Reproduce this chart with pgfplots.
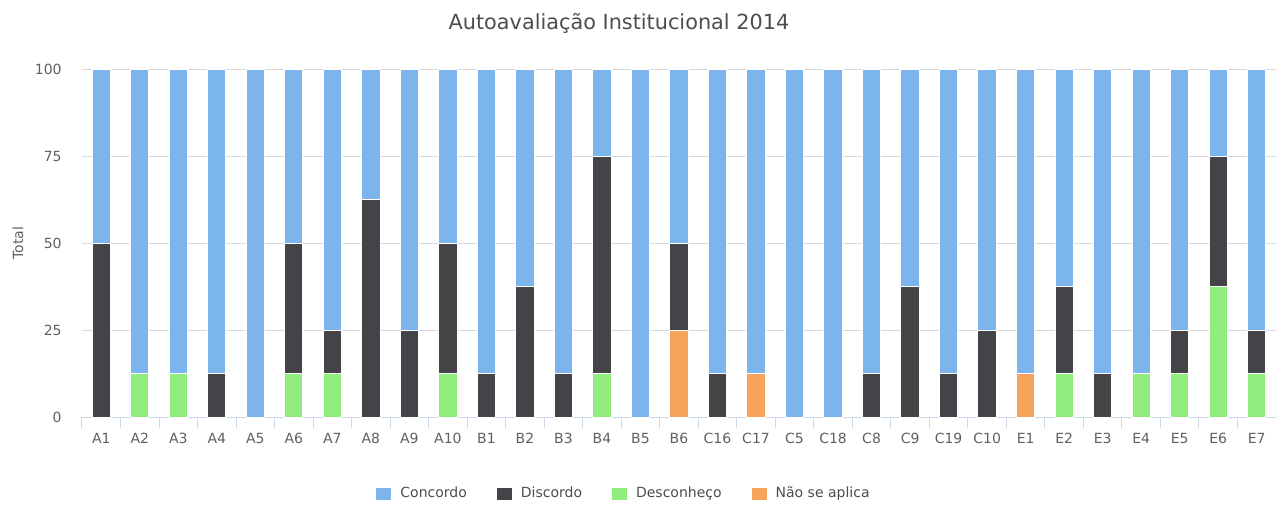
\documentclass[border=0pt]{standalone}
\usepackage{fontspec}
\setmainfont{DejaVu Sans}
\usepackage{pgfplots}
\usepackage{pgfplotstable}
\pgfplotsset{compat=1.18}

\definecolor{concordo}{HTML}{7CB5EC}
\definecolor{discordo}{HTML}{434348}
\definecolor{desconheco}{HTML}{90ED7D}
\definecolor{naoaplica}{HTML}{F7A35C}
\definecolor{gridgray}{HTML}{D8D8D8}
\definecolor{axisblue}{HTML}{CCD6EB}
\definecolor{titlegray}{HTML}{4D4D4D}
\definecolor{tickgray}{HTML}{606060}

% x = category index, values in % of respondents
\pgfplotstableread{
x  nao   desc  disc  conc
0  0     0     50    50
1  0     12.5  0     87.5
2  0     12.5  0     87.5
3  0     0     12.5  87.5
4  0     0     0     100
5  0     12.5  37.5  50
6  0     12.5  12.5  75
7  0     0     62.5  37.5
8  0     0     25    75
9  0     12.5  37.5  50
10 0     0     12.5  87.5
11 0     0     37.5  62.5
12 0     0     12.5  87.5
13 0     12.5  62.5  25
14 0     0     0     100
15 25    0     25    50
16 0     0     12.5  87.5
17 12.5  0     0     87.5
18 0     0     0     100
19 0     0     0     100
20 0     0     12.5  87.5
21 0     0     37.5  62.5
22 0     0     12.5  87.5
23 0     0     25    75
24 12.5  0     0     87.5
25 0     12.5  25    62.5
26 0     0     12.5  87.5
27 0     12.5  0     87.5
28 0     12.5  12.5  75
29 0     37.5  37.5  25
30 0     12.5  12.5  75
}\datatable

\begin{document}
\begin{tikzpicture}
\path[use as bounding box] (-41pt,-43.5pt) rectangle (597pt,208.5pt);
\begin{axis}[
    scale only axis,
    width=597pt, height=174pt,
    ybar stacked,
    bar width=0.475,
    xmin=-0.5, xmax=30.5,
    ymin=0, ymax=100,
    ytick={0,25,50,75,100},
    xtick={0,...,30},
    xticklabels={A1,A2,A3,A4,A5,A6,A7,A8,A9,A10,B1,B2,B3,B4,B5,B6,C16,C17,C5,C18,C8,C9,C19,C10,E1,E2,E3,E4,E5,E6,E7},
    minor xtick={-0.5,0.5,...,30.5},
    major tick length=0pt,
    minor tick length=5.5pt,
    tick align=outside,
    axis x line*=bottom,
    axis y line*=left,
    y axis line style={draw=none},
    x axis line style={draw=axisblue, line width=0.5pt},
    minor x tick style={draw=axisblue, line width=0.5pt},
    ytick style={draw=none},
    ymajorgrids,
    major grid style={draw=gridgray, line width=0.5pt},
    /pgf/number format/assume math mode=true,
    tick label style={font=\fontsize{7}{8}\selectfont, text=tickgray},
    yticklabel style={anchor=east, inner sep=0pt, xshift=-10pt},
    xticklabel style={anchor=base, inner sep=0pt, yshift=-13pt},
    ylabel={Total},
    ylabel style={at={(axis description cs:-0.0536,0.5)}, anchor=center,
        font=\fontsize{7}{8}\selectfont, text=tickgray},
    title={Autoavaliação Institucional 2014},
    title style={at={(0.4497,1)}, anchor=base, yshift=13.5pt, inner sep=0pt,
        font=\fontsize{10.4}{12}\selectfont, text=titlegray},
    every axis plot/.append style={draw=white, line width=0.5pt},
    reverse legend,
    legend columns=4,
    legend style={at={(0.4548,-0.221)}, anchor=center, draw=none,
        font=\fontsize{7}{8}\selectfont, text=titlegray,
        /tikz/every odd column/.append style={column sep=2.5pt},
        /tikz/every even column/.append style={column sep=13pt}},
    legend image code/.code={\fill[#1, draw=none] (0pt,-3pt) rectangle (7.5pt,3pt);},
]
\addplot[fill=naoaplica] table[x=x, y=nao] {\datatable};
\addplot[fill=desconheco] table[x=x, y=desc] {\datatable};
\addplot[fill=discordo] table[x=x, y=disc] {\datatable};
\addplot[fill=concordo] table[x=x, y=conc] {\datatable};
\legend{Não se aplica, Desconheço, Discordo, Concordo}
\end{axis}
\end{tikzpicture}
\end{document}
